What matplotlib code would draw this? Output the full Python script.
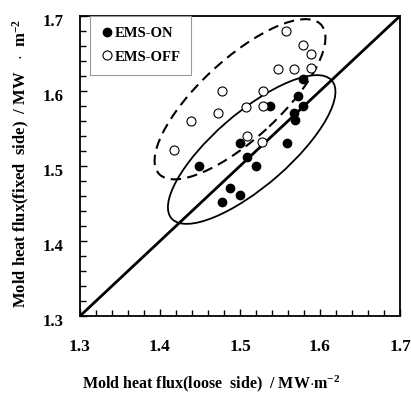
import matplotlib
matplotlib.use("Agg")
import matplotlib.pyplot as plt
import matplotlib.transforms as mtransforms
from matplotlib.patches import Ellipse
from matplotlib.ticker import MultipleLocator

# ==========================
# Data
# ==========================

on_x = [1.579, 1.573, 1.579, 1.568, 1.569, 1.538, 1.559, 1.500, 1.509, 1.520, 1.449, 1.488, 1.500, 1.478]
on_y = [1.616, 1.594, 1.580, 1.571, 1.561, 1.580, 1.531, 1.531, 1.512, 1.500, 1.500, 1.471, 1.461, 1.452]

off_x = [1.558, 1.579, 1.589, 1.589, 1.568, 1.548, 1.478, 1.529, 1.508, 1.529, 1.473, 1.439, 1.418, 1.509, 1.528]
off_y = [1.680, 1.661, 1.650, 1.631, 1.630, 1.630, 1.600, 1.600, 1.579, 1.580, 1.571, 1.560, 1.521, 1.540, 1.532]

ticks = [1.3, 1.4, 1.5, 1.6, 1.7]

# ellipses: center, width, height, angle (data units)
on_ell = (1.5146, 1.522, 0.272, 0.096, 43)
off_ell = (1.500, 1.589, 0.284, 0.103, 45)

# ==========================
# Plot
# ==========================

plt.rcParams["font.family"] = ["Liberation Serif", "DejaVu Serif"]
plt.rcParams["font.weight"] = "bold"
plt.rcParams["mathtext.fontset"] = "custom"
plt.rcParams["mathtext.rm"] = "Liberation Serif:bold"
plt.rcParams["mathtext.bf"] = "Liberation Serif:bold"
plt.rcParams["mathtext.default"] = "rm"

fig = plt.figure(figsize=(4.11, 3.98), dpi=100)
ax = fig.add_axes([80 / 411, 1 - 316 / 398, 320 / 411, 300 / 398])

ax.plot([1.3, 1.7], [1.3, 1.7], color="black", lw=2)

ax.plot(on_x, on_y, "o", color="black", ms=6, label="EMS-ON")
ax.plot(off_x, off_y, "o", mfc="white", mec="black", mew=0.8, ms=6.5, label="EMS-OFF")

cx, cy, w, h, a = on_ell
ax.add_patch(Ellipse((cx, cy), w, h, angle=a, fill=False, ec="black", lw=1.3))
cx, cy, w, h, a = off_ell
ax.add_patch(Ellipse((cx, cy), w, h, angle=a, fill=False, ec="black", lw=1.5,
                     ls=(0, (5, 3))))

ax.set_xlim(1.3, 1.7)
ax.set_ylim(1.3, 1.7)
ax.set_xticks(ticks)
ax.set_yticks(ticks)
ax.xaxis.set_minor_locator(MultipleLocator(0.02))
ax.yaxis.set_minor_locator(MultipleLocator(0.02))
ax.tick_params(which="both", direction="in", top=False, right=False)
ax.tick_params(which="major", length=5, width=1)
ax.tick_params(axis="x", which="major", pad=16.5, labelsize=12.5)
ax.tick_params(axis="y", which="major", pad=12, labelsize=12)
ax.tick_params(which="minor", length=4, width=1)
for s in ax.spines.values():
    s.set_linewidth(1.3)

# y tick labels sit a little below their ticks in the original
shift = mtransforms.ScaledTranslation(0, -4 / 100, fig.dpi_scale_trans)
for lab in ax.get_yticklabels():
    lab.set_transform(lab.get_transform() + shift)

ax.set_xlabel("Mold heat flux(loose  side)  / MW$\\cdot$m$^{-2}$", fontsize=11.5,
              fontweight="bold", va="center")
ax.xaxis.set_label_coords(0.41, -0.225)
ax.set_ylabel("Mold heat flux(fixed  side)  / MW   $\\cdot$  m$^{-2}$", fontsize=12,
              fontweight="bold", va="center")
ax.yaxis.set_label_coords(-0.184, 0.51)

leg = ax.legend(loc="upper left", bbox_to_anchor=(0.03, 1.0), fontsize=10.5,
                handletextpad=0.05, handlelength=0.9, borderpad=0.75,
                labelspacing=0.7, borderaxespad=0, fancybox=False, framealpha=1)
leg.get_frame().set_edgecolor("#999999")
leg.get_frame().set_linewidth(0.8)

fig.savefig("out.png", dpi=100)
